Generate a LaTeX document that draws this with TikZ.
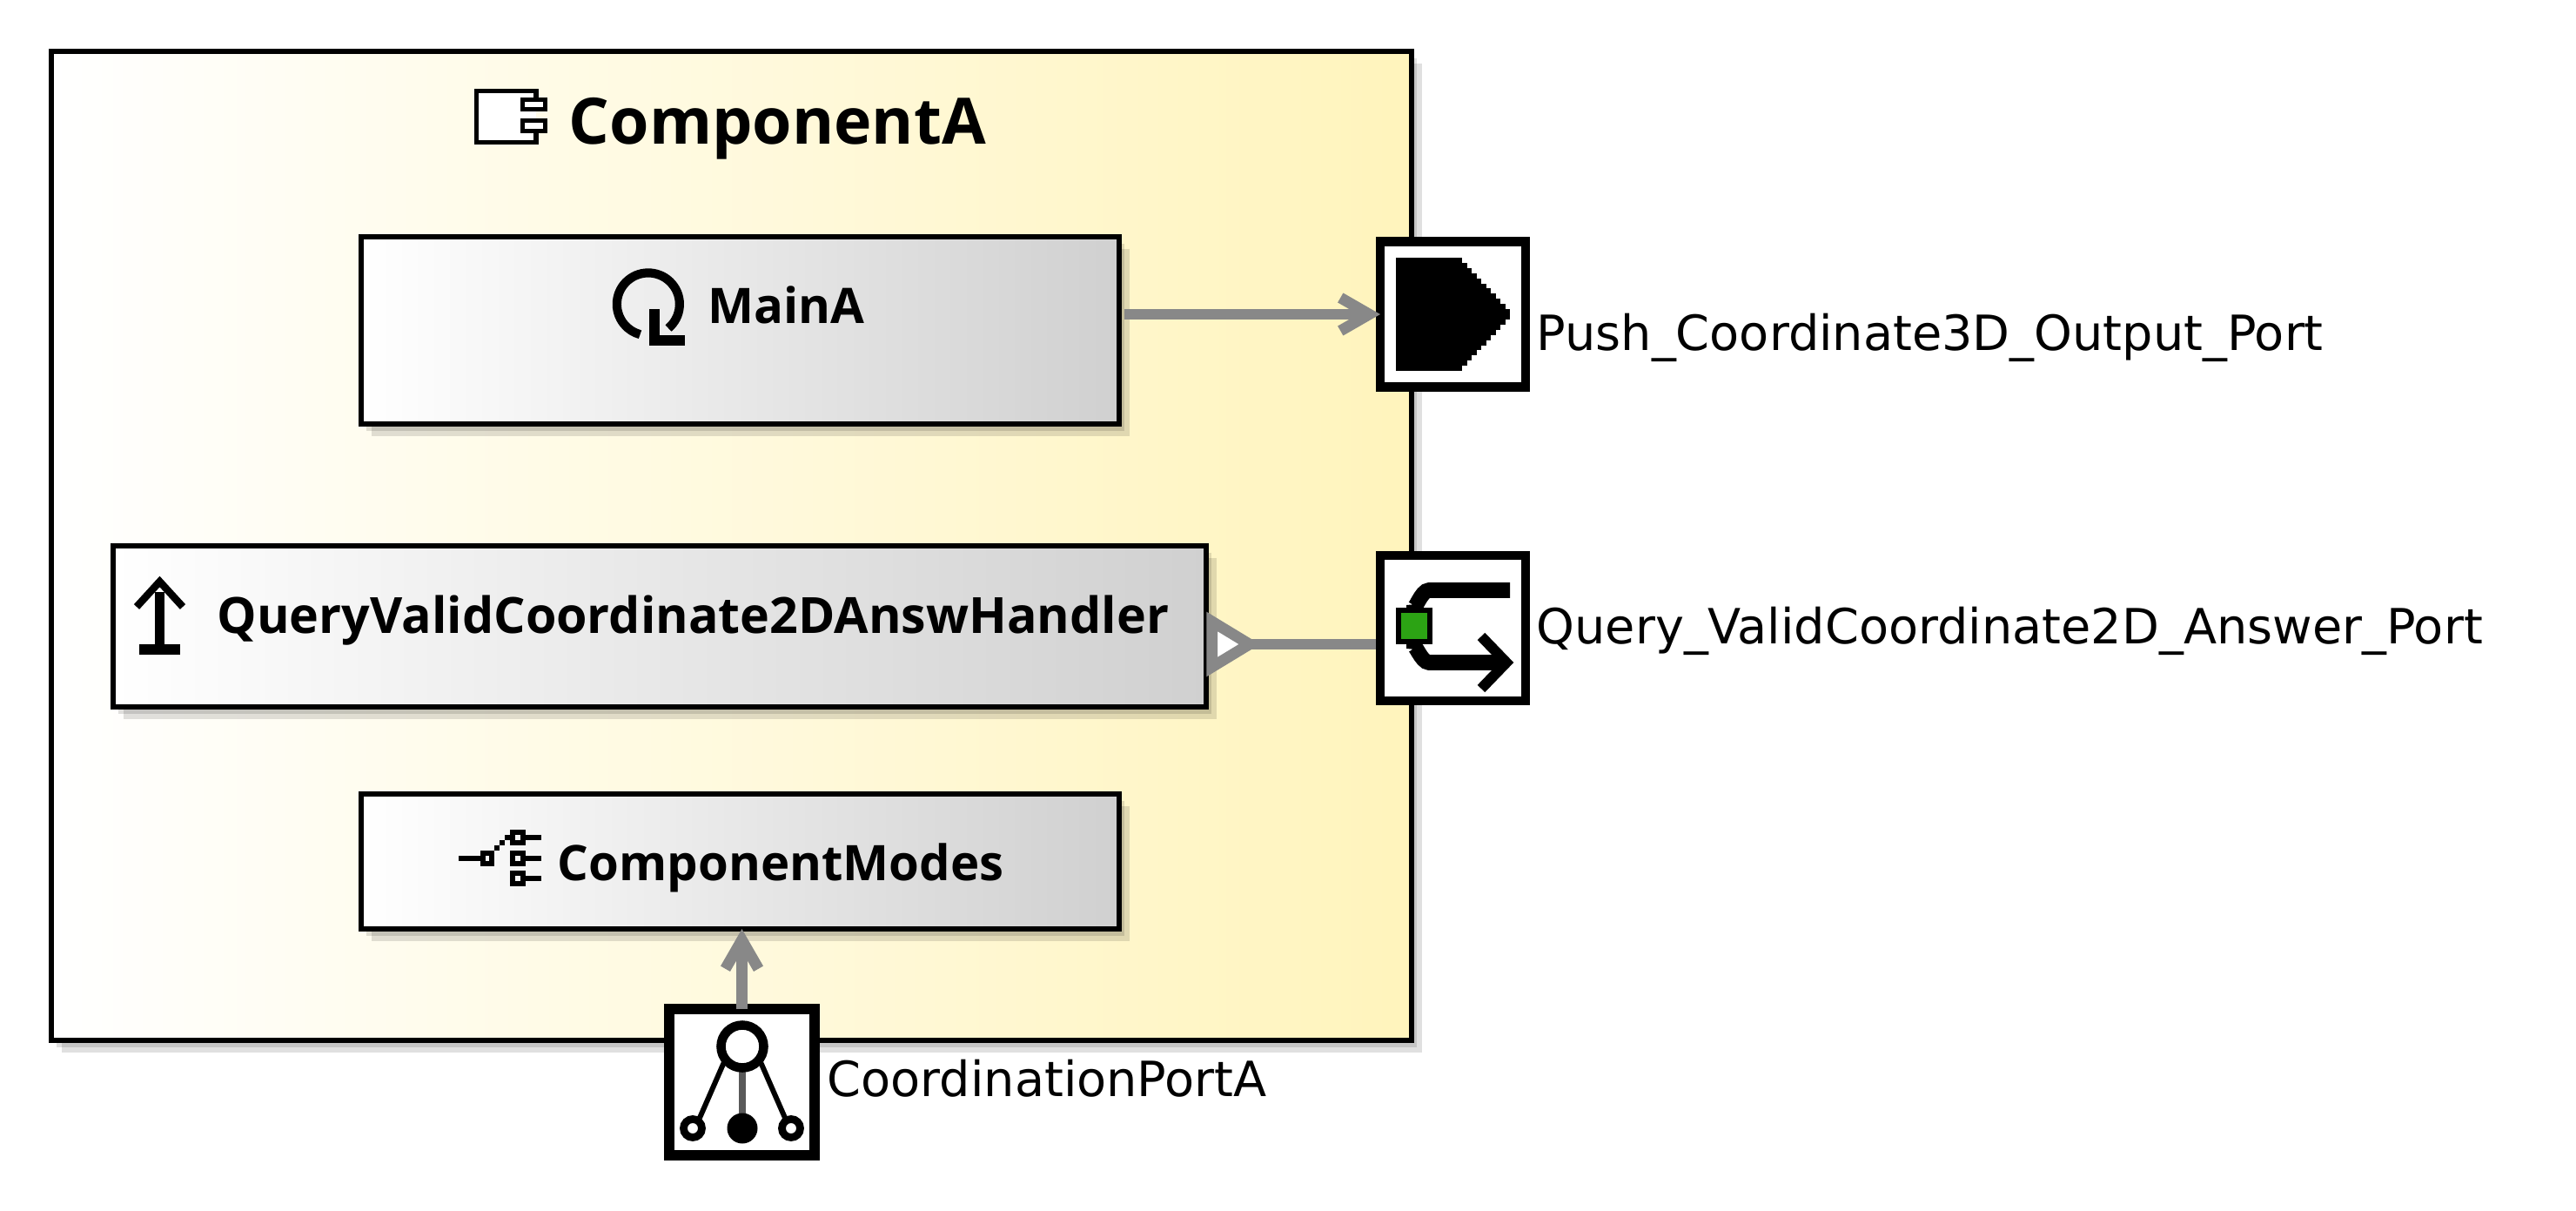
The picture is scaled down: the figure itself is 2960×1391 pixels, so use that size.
\documentclass[tikz,border=0pt]{standalone}
\usepackage{fontspec}
\usetikzlibrary{arrows.meta}
\usetikzlibrary{shadows}
\setmainfont{DejaVu Sans}
\newfontfamily\boxfont{Open Sans}
\definecolor{linkgray}{HTML}{888888}
\definecolor{compyellow}{HTML}{FFF4BC}
\definecolor{boxgray}{HTML}{D0D0D0}
\definecolor{ifacegreen}{HTML}{2CA314}
\tikzset{
  twoshadow/.style={
    drop shadow={shadow xshift=0.12cm,shadow yshift=-0.14cm,opacity=0.12,fill=black},
    drop shadow={shadow xshift=0.06cm,shadow yshift=-0.08cm,opacity=0.12,fill=black}},
  compbox/.style={draw=black,line width=1.7pt,inner sep=0,outer sep=0,twoshadow,
    left color=white,right color=compyellow},
  runbox/.style={draw=black,line width=1.7pt,inner sep=0,outer sep=0,twoshadow,
    left color=white,right color=boxgray},
  portbox/.style={draw=black,fill=white,line width=3pt,inner sep=0,outer sep=0,
    minimum width=1.67cm,minimum height=1.67cm},
  boxtext/.style={inner sep=0,anchor=base west,font=\boxfont\bfseries\fontsize{16}{18}\selectfont},
  porttext/.style={inner sep=0,anchor=base west,font=\fontsize{15.85}{18}\selectfont},
  link/.style={draw=linkgray,line width=3.6pt},
  icon/.style={draw=black,line width=1.7pt}
}
\begin{document}
\begin{tikzpicture}[x=0.01cm,y=-0.01cm]
\useasboundingbox (0,0) rectangle (2960,1391);

% boxes
\node[compbox,minimum width=15.63cm,minimum height=11.36cm] (CompA) at (840.5,627) {};
\node[runbox,minimum width=8.71cm,minimum height=2.15cm] (MainA) at (850.5,379.5) {};
\node[runbox,minimum width=12.56cm,minimum height=1.85cm] (QueryHandler) at (758,719.5) {};
\node[runbox,minimum width=8.71cm,minimum height=1.55cm] (ModesBox) at (850.5,989.5) {};

% ports
\node[portbox] (PushPort) at (1669.5,361) {};
\node[portbox] (QueryPort) at (1669.5,721.5) {};
\node[portbox,line width=3.4pt] (ModePort) at (852.5,1243) {};

% texts
\node[boxtext,font=\boxfont\bfseries\fontsize{20.9}{26}\selectfont] (CompAText) at (653,166) {ComponentA};
\node[boxtext] (MainAText) at (813,371) {MainA};
\node[boxtext,font=\boxfont\bfseries\fontsize{16.3}{18}\selectfont] (QueryText) at (249,727) {QueryValidCoordinate2DAnswHandler};
\node[boxtext] (ModesText) at (640,1011) {ComponentModes};
\node[porttext] (PushText) at (1765,402) {Push\_Coordinate3D\_Output\_Port};
\node[porttext] (QueryPortText) at (1765,739) {Query\_ValidCoordinate2D\_Answer\_Port};
\node[porttext] (ModePortText) at (950,1259) {CoordinationPortA};

% connectors
\draw[link,shorten <=1.7pt,-{Straight Barb[length=0.33cm,width=0.38cm]}] (MainA.east |- PushPort.west) -- (PushPort.west);
\coordinate (QueryJoin) at (1581,740);
\draw[link,{Triangle[open,reversed,length=0.62cm,width=0.71cm,fill=white]}-] (QueryHandler.east |- QueryJoin) -- (QueryJoin);
\draw[link,-{Straight Barb[length=0.33cm,width=0.38cm]}] (ModePort.north) -- (ModesBox.south -| ModePort.north);

% component icon
\fill[white] (545,102) rectangle (616,166);
\draw[icon] (616,112) -- (616,104.5) -- (547.5,104.5) -- (547.5,163.5) -- (616,163.5) -- (616,153);
\draw[icon,fill=white] (600.5,114.5) rectangle (626.5,125.5);
\draw[icon,fill=white] (600.5,138.5) rectangle (626.5,150.5);

% main icon
\draw[black,line width=2.9pt] (768,377) arc[start angle=50,end angle=-255,radius=36];
\fill[black] (746,355) rectangle (758,397);
\fill[black] (746,385) rectangle (787,397);

% handler icon
\fill[black] (178,680) rectangle (189,745);
\draw[black,line width=2.4pt] (157,697) -- (183.5,668) -- (210,697);
\fill[black] (160,740) rectangle (207,752);

% modes icon
\draw[icon] (527,986) -- (554,986);
\draw[icon] (555,980) rectangle (565,992);
\fill[black] (568,971) rectangle (574,977);
\fill[black] (574,965) rectangle (580,971);
\fill[black] (580,959) rectangle (586,965);
\foreach \iy in {962,986,1009}{
  \draw[icon] (589,\iy-6) rectangle (601,\iy+6);
  \draw[icon] (601,\iy) -- (622,\iy);
}

% push port icon
\fill[black] (1604,296) rectangle (1675,426);
\foreach \i in {0,...,10}{
  \fill[black] (1675+\i*5.45,296+\i*5.9) rectangle (1680.45+\i*5.45,426-\i*5.9);
}

% query port icon
\draw[black,line width=5pt] (1735,678) -- (1642,678) to[out=180,in=-90] (1625,695) -- (1625,745) to[out=90,in=180] (1642,761) -- (1725,761);
\draw[black,line width=3.4pt] (1702,731) -- (1731,761) -- (1702,791);
\draw[black,line width=1.7pt,fill=ifacegreen] (1607,701) rectangle (1643,737);

% mode port icon
\draw[black,line width=1.7pt] (832,1220) -- (804,1284);
\draw[black,line width=1.7pt] (874,1220) -- (902,1284);
\draw[black!65,line width=2.2pt] (853,1224) -- (853,1280);
\draw[black,line width=3pt,fill=white] (853,1202) circle [radius=24.5];
\draw[black,line width=2.5pt,fill=white] (796,1296) circle [radius=10.5];
\draw[black,line width=2.5pt,fill=white] (909,1296) circle [radius=10.5];
\fill[black] (853,1296) circle [radius=17.5];
\end{tikzpicture}
\end{document}
